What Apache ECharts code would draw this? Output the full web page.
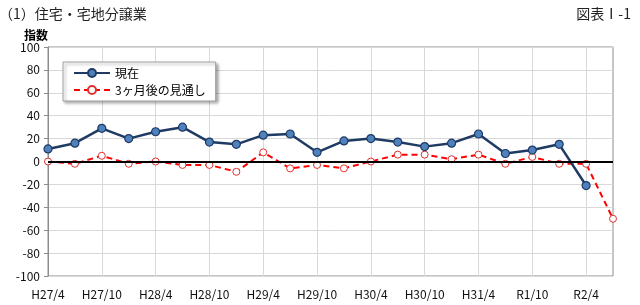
<!DOCTYPE html>
<html><head><meta charset="utf-8">
<script src="https://cdn.jsdelivr.net/npm/echarts@6/dist/echarts.min.js"></script>
<style>html,body{margin:0;padding:0;background:#fff}#c{width:640px;height:305px}</style>
</head><body><div id="c"></div>
<script>
const categories = ['H27/4','H27/7','H27/10','H28/1','H28/4','H28/7','H28/10','H29/1','H29/4','H29/7','H29/10','H30/1','H30/4','H30/7','H30/10','H31/1','H31/4','R1/7','R1/10','R2/1','R2/4','R2/7'];
const currentValues = [11,16,29,20,26,30,17,15,23,24,8,18,20,17,13,16,24,7,10,15,-21,null];
const outlookValues = [0,-2,5,-2,0,-3,-3,-9,8,-6,-3,-6,0,6,6,2,6,-2,4,-2,-2,-50];
const yTicks = [-100,-80,-60,-40,-20,0,20,40,60,80,100];

const chart = echarts.init(document.getElementById('c'));
const font = '"Noto Sans CJK JP", "Noto Sans", sans-serif';
chart.setOption({
  animation: false,
  textStyle: {fontFamily: font},
  title: [
    {text: '（1）住宅・宅地分譲業', left: -6, top: 2, textStyle: {fontSize: 14, fontWeight: 'normal', color: '#222', fontFamily: font}},
    {text: '図表Ⅰ-1', right: 4, top: 2, textStyle: {fontSize: 14, fontWeight: 'normal', color: '#222', fontFamily: font}}
  ],
  grid: {left: 48, right: 27, top: 47, bottom: 29, show: true, borderColor: '#8c8c8c', borderWidth: 1},
  legend: {
    orient: 'vertical', left: 63, top: 62, padding: [5, 10, 5, 10], itemGap: 5,
    itemWidth: 36, itemHeight: 10,
    backgroundColor: '#fff', borderColor: '#a0a0a0', borderWidth: 1,
    shadowColor: 'rgba(0,0,0,0.35)', shadowBlur: 3, shadowOffsetX: 2, shadowOffsetY: 2,
    textStyle: {fontSize: 12, color: '#000', fontFamily: font},
    data: ['現在', '3ヶ月後の見通し']
  },
  xAxis: {
    type: 'category', data: categories, boundaryGap: false,
    axisLine: {show: false}, axisTick: {show: false},
    axisLabel: {interval: 1, fontSize: 12, color: '#111', margin: 12},
    splitLine: {show: true, interval: 1, lineStyle: {color: '#d9d9d9', width: 1}}
  },
  yAxis: {
    type: 'value', min: -100, max: 100, interval: 20,
    name: '指数', nameLocation: 'end', nameGap: 6,
    nameTextStyle: {fontSize: 12, fontWeight: 'bold', color: '#000', align: 'right'},
    axisLine: {show: true, lineStyle: {color: '#8c8c8c'}},
    axisTick: {show: true, length: 4, lineStyle: {color: '#8c8c8c'}},
    axisLabel: {fontSize: 12, color: '#111', margin: 8},
    splitLine: {show: true, lineStyle: {color: '#d9d9d9', width: 1}}
  },
  series: [
    {
      name: '3ヶ月後の見通し', type: 'line', data: outlookValues, z: 3,
      symbol: 'circle', symbolSize: 7,
      lineStyle: {color: '#ff0000', width: 2, type: [6, 4]},
      itemStyle: {color: '#fff', borderColor: '#e03030', borderWidth: 1},
      markLine: {silent: true, symbol: 'none', label: {show: false},
        lineStyle: {color: '#000', width: 2, type: 'solid'}, data: [{yAxis: 0}]}
    },
    {
      name: '現在', type: 'line', data: currentValues, z: 4,
      symbol: 'circle', symbolSize: 8, connectNulls: false,
      lineStyle: {color: '#1f3b63', width: 2.5},
      itemStyle: {color: '#4f81bd', borderColor: '#1f3b63', borderWidth: 1.2}
    }
  ]
});
</script></body></html>
